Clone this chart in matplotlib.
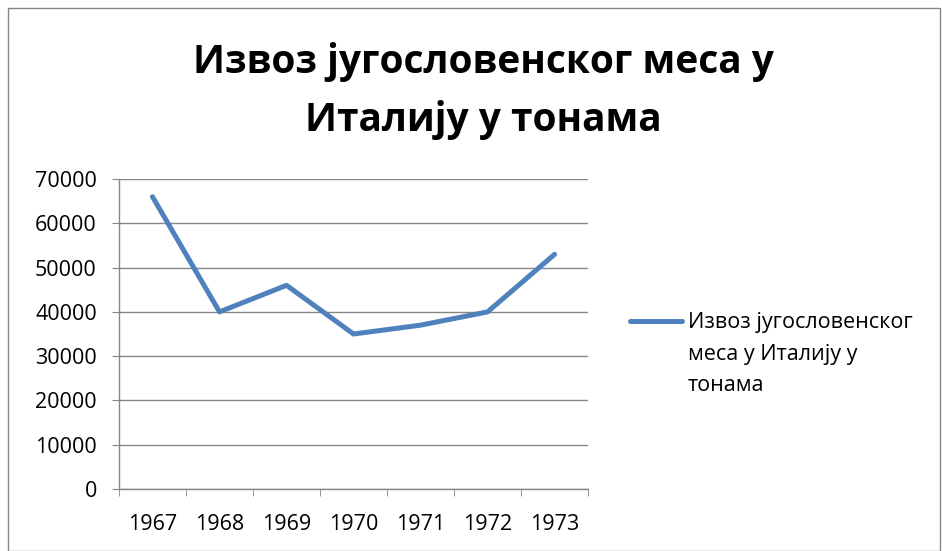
import matplotlib
matplotlib.use("Agg")
import matplotlib.pyplot as plt
from matplotlib.patches import Rectangle
from matplotlib.lines import Line2D

years = ["1967", "1968", "1969", "1970", "1971", "1972", "1973"]
tonnes = [66000, 40000, 46000, 35000, 37000, 40000, 53000]
title = "Извоз југословенског меса у\nИталију у тонама"
series_label = "Извоз југословенског\nмеса у Италију у\nтонама"

plt.rcParams['font.family'] = ['Open Sans', 'DejaVu Sans']

blue = "#4F81BD"
grid_c = "#868686"

fig = plt.figure(figsize=(9.42, 5.51), dpi=100)
ax = fig.add_axes([0.1263, 0.1125, 0.498, 0.5626])

x = [i + 0.5 for i in range(len(years))]
ax.plot(x, tonnes, color=blue, linewidth=3.6, solid_capstyle="round",
        solid_joinstyle="round", zorder=3)

ax.set_xlim(0, len(years))
ax.set_ylim(0, 70000)
ax.set_yticks(range(0, 70001, 10000))
ax.set_xticks(x)
ax.set_xticklabels(years)
ax.set_xticks(range(len(years) + 1), minor=True)

ax.yaxis.grid(True, color=grid_c, linewidth=1)
ax.set_axisbelow(True)
for s in ["top", "right"]:
    ax.spines[s].set_visible(False)
for s in ["left", "bottom"]:
    ax.spines[s].set_color(grid_c)
    ax.spines[s].set_linewidth(1)

ax.tick_params(axis="y", length=5, color=grid_c, pad=11, labelsize=15.5)
ax.tick_params(axis="x", which="major", length=0, pad=18, labelsize=15.5)
ax.tick_params(axis="x", which="minor", length=5, color=grid_c)

fig.text(0.513, 0.835, title, ha="center", va="center", fontsize=28,
         fontweight="bold", linespacing=1.6)

# legend drawn by hand so the sample sits beside the first text line
ly = 1 - 321 / 551
fig.add_artist(Line2D([630 / 942, 682 / 942], [ly, ly], color=blue,
                      linewidth=3.6, solid_capstyle="round"))
fig.text(688 / 942, ly + 0.017, series_label, ha="left", va="top",
         fontsize=15.5, linespacing=1.68)

fig.add_artist(Rectangle((0.008, 0.0), 0.99, 0.985, transform=fig.transFigure,
                         fill=False, edgecolor=grid_c, linewidth=1))

fig.savefig("out.png", dpi=100)
